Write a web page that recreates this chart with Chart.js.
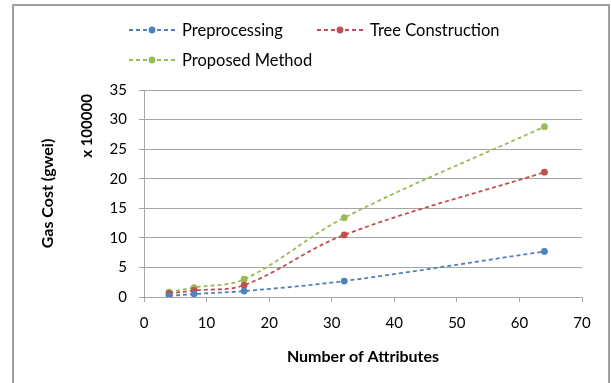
<!DOCTYPE html>
<html>
<head>
<meta charset="utf-8">
<script src="https://cdn.jsdelivr.net/npm/chart.js@4/dist/chart.umd.min.js"></script>
<style>
  html, body { margin: 0; padding: 0; background: #fff; }
  canvas { display: block; }
</style>
</head>
<body>
<canvas id="c" width="611" height="383"></canvas>
<script>
// Number of attributes (x) and gas cost in units of 100000 gwei (y)
const attributes = [4, 8, 16, 32, 64];
const preprocessing = [0.2, 0.5, 1.0, 2.7, 7.7];
const treeConstruction = [0.6, 1.1, 2.0, 10.5, 21.1];
const proposedMethod = [0.8, 1.6, 3.0, 13.4, 28.8];

const xTicks = [0, 10, 20, 30, 40, 50, 60, 70];
const yTicks = [0, 5, 10, 15, 20, 25, 30, 35];

const seriesNames = ['Preprocessing', 'Tree Construction', 'Proposed Method'];
const seriesColors = ['#4F81BD', '#C0504D', '#9BBB59'];

const FONT = 'Lato, "Liberation Sans", sans-serif';
const GRID = '#a6a6a6';

function toPoints(values) {
  return attributes.map((x, i) => ({ x: x, y: values[i] }));
}

function makeDataset(label, values, color) {
  return {
    label: label,
    data: toPoints(values),
    borderColor: color,
    backgroundColor: color,
    borderWidth: 1.8,
    borderDash: [4, 3],
    pointRadius: 3.4,
    pointBorderWidth: 0,
    pointBackgroundColor: color,
    tension: 0.35,
    fill: false
  };
}

// Legend, axis titles and outer frame
const decorations = {
  id: 'decorations',
  afterDraw(chart) {
    const ctx = chart.ctx;
    const area = chart.chartArea;
    ctx.save();

    // outer frame
    ctx.strokeStyle = '#a0a0a0';
    ctx.lineWidth = 2;
    ctx.beginPath();
    ctx.moveTo(13, 400);
    ctx.lineTo(13, 5);
    ctx.lineTo(609, 5);
    ctx.lineTo(609, 400);
    ctx.stroke();

    // legend
    const slots = [
      { x: 129, y: 30 },
      { x: 317, y: 30 },
      { x: 129, y: 60 }
    ];
    ctx.font = '16.5px ' + FONT;
    ctx.textBaseline = 'middle';
    ctx.textAlign = 'left';
    chart.data.datasets.forEach((ds, i) => {
      const s = slots[i];
      ctx.strokeStyle = ds.borderColor;
      ctx.lineWidth = 1.8;
      ctx.setLineDash([4, 3]);
      ctx.beginPath();
      ctx.moveTo(s.x, s.y);
      ctx.lineTo(s.x + 46, s.y);
      ctx.stroke();
      ctx.setLineDash([]);
      ctx.fillStyle = ds.borderColor;
      ctx.beginPath();
      ctx.arc(s.x + 23, s.y, 3.4, 0, Math.PI * 2);
      ctx.fill();
      ctx.fillStyle = '#000';
      ctx.fillText(ds.label, s.x + 53, s.y + 1);
    });

    // axis titles
    ctx.fillStyle = '#000';
    ctx.font = 'bold 16px ' + FONT;
    ctx.textAlign = 'center';
    ctx.textBaseline = 'middle';
    ctx.fillText('Number of Attributes', (area.left + area.right) / 2, 357);

    ctx.save();
    ctx.translate(48, (area.top + area.bottom) / 2);
    ctx.rotate(-Math.PI / 2);
    ctx.fillText('Gas Cost (gwei)', 0, 0);
    ctx.restore();

    ctx.font = 'bold 15px ' + FONT;
    ctx.save();
    ctx.translate(87, 126);
    ctx.rotate(-Math.PI / 2);
    ctx.fillText('x 100000', 0, 0);
    ctx.restore();

    ctx.restore();
  }
};

new Chart(document.getElementById('c'), {
  type: 'line',
  data: {
    datasets: seriesNames.map((name, i) =>
      makeDataset(name, [preprocessing, treeConstruction, proposedMethod][i], seriesColors[i]))
  },
  options: {
    responsive: false,
    animation: false,
    layout: { padding: { top: 90, right: 29, left: 0, bottom: 0 } },
    plugins: { legend: { display: false }, tooltip: { enabled: false } },
    scales: {
      x: {
        type: 'linear',
        min: xTicks[0],
        max: xTicks[xTicks.length - 1],
        afterBuildTicks(scale) { scale.ticks = xTicks.map(v => ({ value: v })); },
        afterFit(scale) { scale.height = 86; },
        ticks: { color: '#000', font: { family: FONT, size: 15 }, padding: 12, maxRotation: 0 },
        grid: { drawOnChartArea: false, color: GRID, tickLength: 5 },
        border: { color: GRID }
      },
      y: {
        type: 'linear',
        min: yTicks[0],
        max: yTicks[yTicks.length - 1],
        afterBuildTicks(scale) { scale.ticks = yTicks.map(v => ({ value: v })); },
        afterFit(scale) { scale.width = 144; },
        ticks: { color: '#000', font: { family: FONT, size: 15 }, padding: 12 },
        grid: { color: GRID, tickLength: 5 },
        border: { color: GRID }
      }
    }
  },
  plugins: [decorations]
});
</script>
</body>
</html>
